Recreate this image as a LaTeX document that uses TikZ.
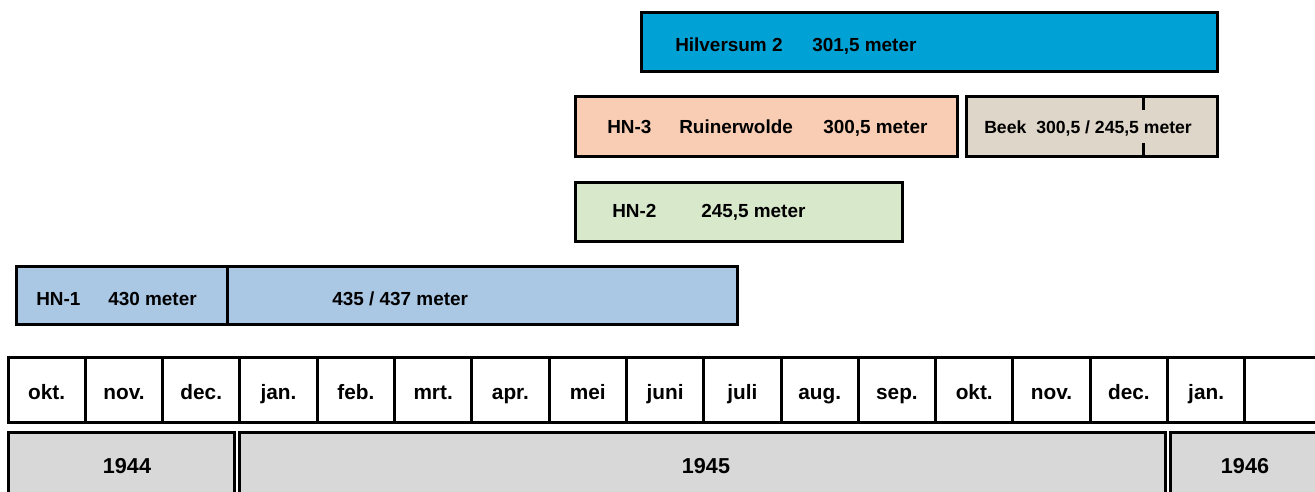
\documentclass[tikz,border=0pt]{standalone}
\usepackage{fontspec}
\setmainfont{Liberation Sans}
\usepackage{xcolor}
\definecolor{hilvblue}{RGB}{0,162,214}
\definecolor{hnthree}{RGB}{248,205,180}
\definecolor{beektan}{RGB}{222,214,200}
\definecolor{hntwo}{RGB}{216,232,202}
\definecolor{hnone}{RGB}{170,200,228}
\definecolor{yeargray}{RGB}{216,216,216}

\tikzset{
  bar/.style={line width=2.25pt},
  bartext/.style={anchor=base west, inner sep=0pt, font=\fontsize{14.2}{17}\selectfont\bfseries},
  beektext/.style={bartext, font=\fontsize{13.2}{16}\selectfont\bfseries},
  monthtext/.style={anchor=base, inner sep=0pt, font=\fontsize{15.6}{18}\selectfont\bfseries},
  yeartext/.style={anchor=base, inner sep=0pt, font=\fontsize{16.2}{19}\selectfont\bfseries}
}

\begin{document}
\begin{tikzpicture}[x=0.75pt,y=0.75pt,yscale=-1,xscale=1]
\useasboundingbox (0,0) rectangle (1315,492);
\clip (0,0) rectangle (1315,492);

%Rect Hilversum 2
\draw [bar, fill=hilvblue] (641,13) rectangle (1217,72);
%Rect HN-3
\draw [bar, fill=hnthree] (575,97) rectangle (957,157);
%Rect Beek
\draw [bar, fill=beektan] (966,97) rectangle (1217,157);
\draw [bar] (1143,97) -- (1143,110) (1143,143) -- (1143,157);
%Rect HN-2
\draw [bar, fill=hntwo] (575,182) rectangle (902,241);
%Rect HN-1
\draw [bar, fill=hnone] (16,266) rectangle (737,324);
\draw [bar] (227,266) -- (227,324);

% Months
\foreach \m [count=\i from 0] in {okt.,nov.,dec.,jan.,feb.,mrt.,apr.,mei,juni,juli,aug.,sep.,okt.,nov.,dec.,jan.,{}} {
  \draw [bar, fill=white] ({8+77.3*\i},357) rectangle ({8+77.3*(\i+1)},422);
  \node [monthtext] (month\i) at ({8+77.3*(\i+0.5)},399) {\m};
}

% Years
\draw [bar, fill=yeargray] (8,432) rectangle (234,500);
\draw [bar, fill=yeargray] (239,432) rectangle (1165,500);
\draw [bar, fill=yeargray] (1170,432) rectangle (1325,500);

% Text Node
\node [bartext] (hilv) at (675,52) {Hilversum 2};
\node [bartext] (hilvm) at (812,52) {301,5 meter};
% Text Node
\node [bartext] (hn3) at (607,133) {HN-3};
\node [bartext] (ruin) at (679,133) {Ruinerwolde};
\node [bartext] (hn3m) at (823,133) {300,5 meter};
% Text Node
\node [beektext] (beek) at (984,133) {Beek};
\node [beektext] (beekm) at (1036,133) {300,5 / 245,5 meter};
% Text Node
\node [bartext] (hn2) at (612,217) {HN-2};
\node [bartext] (hn2m) at (701,217) {245,5 meter};
% Text Node
\node [bartext] (hn1) at (36,305) {HN-1};
\node [bartext] (hn1m) at (108,305) {430 meter};
\node [bartext] (hn1n) at (332,305) {435 / 437 meter};
% Text Node
\node [yeartext] (y44) at (127,473) {1944};
\node [yeartext] (y45) at (706,473) {1945};
\node [yeartext] (y46) at (1245,473) {1946};

\end{tikzpicture}
\end{document}
